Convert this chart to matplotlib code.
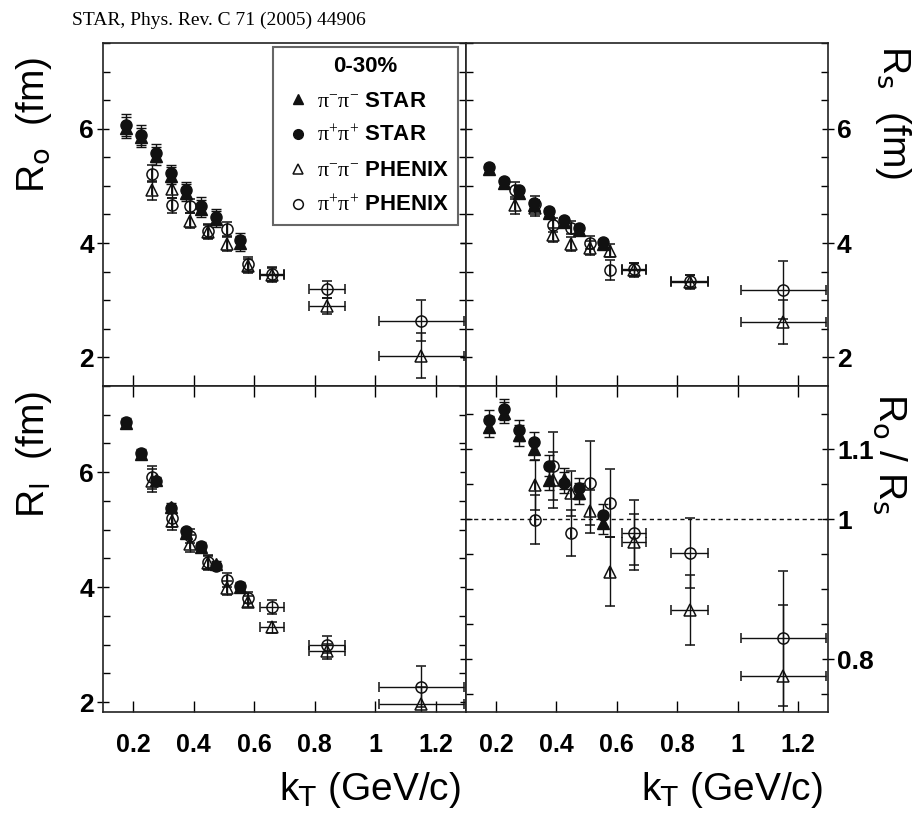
import numpy as np
import matplotlib
matplotlib.use("Agg")
import matplotlib.pyplot as plt
from matplotlib.lines import Line2D
from matplotlib.ticker import MultipleLocator

plt.rcParams["font.family"] = ["Liberation Sans", "DejaVu Sans"]
plt.rcParams["mathtext.fontset"] = "custom"
plt.rcParams["mathtext.default"] = "regular"
plt.rcParams["mathtext.sf"] = "Liberation Serif"

# -------------------------------------------------------------------------
# Data: HBT radii vs kT, 0-30% Au+Au
# -------------------------------------------------------------------------
STAR_KT = [0.175, 0.225, 0.275, 0.325, 0.375, 0.425, 0.475, 0.553]
PHENIX_KT = [0.261, 0.328, 0.389, 0.447, 0.511, 0.578, 0.658, 0.841, 1.152]
PHENIX_KT_ERR = [0, 0, 0, 0, 0, 0, 0.04, 0.06, 0.14]

# R_out
RO_STAR_PIM = [6.02, 5.85, 5.52, 5.18, 4.88, 4.60, 4.42, 4.00]
RO_STAR_PIP = [6.06, 5.89, 5.57, 5.22, 4.92, 4.65, 4.46, 4.05]
RO_STAR_ERR = [0.19, 0.17, 0.16, 0.15, 0.15, 0.15, 0.14, 0.13]
RO_PHX_PIM = [4.92, 4.94, 4.39, 4.19, 3.99, 3.60, 3.44, 2.90, 2.03]
RO_PHX_PIM_ERR = [0.17, 0.15, 0.13, 0.12, 0.12, 0.12, 0.12, 0.14, 0.39]
RO_PHX_PIP = [5.21, 4.66, 4.65, 4.21, 4.24, 3.63, 3.46, 3.19, 2.64]
RO_PHX_PIP_ERR = [0.15, 0.13, 0.12, 0.12, 0.12, 0.12, 0.12, 0.15, 0.36]

# R_side
RS_STAR_PIM = [5.30, 5.05, 4.88, 4.66, 4.52, 4.37, 4.23, 3.98]
RS_STAR_PIP = [5.33, 5.08, 4.92, 4.70, 4.56, 4.41, 4.27, 4.02]
RS_STAR_ERR = [0.05, 0.05, 0.05, 0.05, 0.05, 0.05, 0.05, 0.05]
RS_PHX_PIM = [4.66, 4.62, 4.14, 3.99, 3.91, 3.87, 3.53, 3.32, 2.62]
RS_PHX_PIM_ERR = [0.15, 0.14, 0.12, 0.12, 0.12, 0.12, 0.12, 0.12, 0.38]
RS_PHX_PIP = [4.92, 4.69, 4.32, 4.27, 4.01, 3.53, 3.54, 3.33, 3.18]
RS_PHX_PIP_ERR = [0.15, 0.14, 0.12, 0.12, 0.12, 0.17, 0.12, 0.12, 0.51]

# R_long
RL_STAR_PIM = [6.85, 6.31, 5.86, 5.40, 4.95, 4.70, 4.40, 4.00]
RL_STAR_PIP = [6.88, 6.34, 5.84, 5.37, 4.97, 4.72, 4.37, 4.03]
RL_STAR_ERR = [0.06, 0.06, 0.06, 0.06, 0.06, 0.06, 0.06, 0.06]
RL_PHX_PIM = [5.85, 5.15, 4.76, 4.42, 3.99, 3.75, 3.30, 2.89, 1.97]
RL_PHX_PIM_ERR = [0.20, 0.15, 0.15, 0.12, 0.12, 0.10, 0.10, 0.13, 0.30]
RL_PHX_PIP = [5.91, 5.20, 4.89, 4.44, 4.12, 3.82, 3.65, 3.00, 2.27]
RL_PHX_PIP_ERR = [0.20, 0.15, 0.12, 0.12, 0.12, 0.10, 0.12, 0.15, 0.36]

# R_out / R_side
RATIO_STAR_PIM = [1.132, 1.152, 1.120, 1.100, 1.056, 1.058, 1.037, 0.994]
RATIO_STAR_PIP = [1.141, 1.157, 1.127, 1.110, 1.076, 1.052, 1.044, 1.006]
RATIO_STAR_ERR = [0.015, 0.015, 0.015, 0.015, 0.015, 0.015, 0.015, 0.015]
RATIO_PHX_KT = PHENIX_KT[1:]
RATIO_PHX_KT_ERR = PHENIX_KT_ERR[1:]
RATIO_PHX_PIM = [1.049, 1.056, 1.037, 1.011, 0.925, 0.967, 0.870, 0.777]
RATIO_PHX_PIM_ERR = [0.036, 0.040, 0.032, 0.030, 0.049, 0.040, 0.050, 0.100]
RATIO_PHX_PIP = [0.999, 1.076, 0.980, 1.052, 1.023, 0.981, 0.952, 0.830]
RATIO_PHX_PIP_ERR = [0.035, 0.049, 0.033, 0.060, 0.049, 0.046, 0.050, 0.096]

LABELS = [r"$\mathsf{π^{-}π^{-}}$ STAR", r"$\mathsf{π^{+}π^{+}}$ STAR",
          r"$\mathsf{π^{-}π^{-}}$ PHENIX", r"$\mathsf{π^{+}π^{+}}$ PHENIX"]

INK = "#111111"
MS = 8
TICK_FS = 18
LABEL_FS = 28


def draw_sets(ax, star_m, star_p, star_err, phx_m, phx_m_err, phx_p, phx_p_err,
              phx_kt=PHENIX_KT, phx_kt_err=PHENIX_KT_ERR):
    common = dict(ls="none", ecolor=INK, elinewidth=1.0, capsize=3.5,
                  capthick=1.0, ms=MS)
    ax.errorbar(phx_kt, phx_m, yerr=phx_m_err, xerr=phx_kt_err, marker="^",
                mfc="none", mec=INK, mew=1.1, **common)
    ax.errorbar(phx_kt, phx_p, yerr=phx_p_err, xerr=phx_kt_err, marker="o",
                mfc="none", mec=INK, mew=1.1, **common)
    ax.errorbar(STAR_KT, star_m, yerr=star_err, marker="^",
                mfc=INK, mec=INK, **common)
    ax.errorbar(STAR_KT, star_p, yerr=star_err, marker="o",
                mfc=INK, mec=INK, **common)


def style_axes(ax, right, bottom):
    ax.set_xlim(0.1, 1.3)
    ax.set_xticks([0.2, 0.4, 0.6, 0.8, 1.0, 1.2],
                  labels=["0.2", "0.4", "0.6", "0.8", "1", "1.2"],
                  fontsize=TICK_FS, fontweight="bold")
    ax.tick_params(axis="x", which="major", direction="in", length=8, width=1,
                   top=bottom, bottom=True, labelbottom=bottom, pad=15)
    ax.tick_params(axis="y", which="major", direction="inout", length=9, width=1,
                   left=True, right=True, labelleft=not right, labelright=right, pad=2)
    ax.tick_params(axis="y", which="minor", direction="in", length=5, width=1,
                   left=True, right=True)
    for sp in ax.spines.values():
        sp.set_linewidth(1.2)
        sp.set_color("#222222")


fig = plt.figure(figsize=(9.18, 8.14), dpi=100)
fig.patch.set_facecolor("white")

L, M, R = 0.1122, 0.5076, 0.902
TOP, MID, BOT = 0.9472, 0.5258, 0.1253
ax_o = fig.add_axes([L, MID, M - L, TOP - MID])
ax_s = fig.add_axes([M, MID, R - M, TOP - MID])
ax_l = fig.add_axes([L, BOT, M - L, MID - BOT])
ax_r = fig.add_axes([M, BOT, R - M, MID - BOT])

draw_sets(ax_o, RO_STAR_PIM, RO_STAR_PIP, RO_STAR_ERR,
          RO_PHX_PIM, RO_PHX_PIM_ERR, RO_PHX_PIP, RO_PHX_PIP_ERR)
draw_sets(ax_s, RS_STAR_PIM, RS_STAR_PIP, RS_STAR_ERR,
          RS_PHX_PIM, RS_PHX_PIM_ERR, RS_PHX_PIP, RS_PHX_PIP_ERR)
draw_sets(ax_l, RL_STAR_PIM, RL_STAR_PIP, RL_STAR_ERR,
          RL_PHX_PIM, RL_PHX_PIM_ERR, RL_PHX_PIP, RL_PHX_PIP_ERR)
draw_sets(ax_r, RATIO_STAR_PIM, RATIO_STAR_PIP, RATIO_STAR_ERR,
          RATIO_PHX_PIM, RATIO_PHX_PIM_ERR, RATIO_PHX_PIP, RATIO_PHX_PIP_ERR,
          phx_kt=RATIO_PHX_KT, phx_kt_err=RATIO_PHX_KT_ERR)
ax_r.axhline(1.0, color=INK, lw=1.0, ls=(0, (3, 2.5)), zorder=0)

for ax, right, bottom in [(ax_o, False, False), (ax_s, True, False),
                          (ax_l, False, True), (ax_r, True, True)]:
    style_axes(ax, right, bottom)

# radii panels
for ax in (ax_o, ax_s):
    ax.set_ylim(1.5, 7.5)
ax_l.set_ylim(1.83, 7.5)
for ax in (ax_o, ax_s, ax_l):
    ax.set_yticks([2, 4, 6], labels=["2", "4", "6"],
                  fontsize=TICK_FS + 1, fontweight="bold")
    ax.yaxis.set_minor_locator(MultipleLocator(0.5))

ax_r.set_ylim(0.725, 1.19)
ax_r.set_yticks([0.8, 1.0, 1.1], labels=["0.8", "1", "1.1"],
                fontsize=TICK_FS + 1, fontweight="bold")
ax_r.yaxis.set_minor_locator(MultipleLocator(0.05))

# axis titles
ax_o.set_ylabel(r"R$_\mathrm{o}$  (fm)", fontsize=LABEL_FS, rotation=90,
                ha="center", va="center")
ax_o.yaxis.set_label_coords(-0.19, 0.76)
ax_l.set_ylabel(r"R$_\mathrm{l}$  (fm)", fontsize=LABEL_FS, rotation=90,
                ha="center", va="center")
ax_l.yaxis.set_label_coords(-0.19, 0.79)
ax_s.yaxis.set_label_position("right")
ax_s.set_ylabel(r"R$_\mathrm{s}$  (fm)", fontsize=LABEL_FS, rotation=270,
                ha="center", va="center")
ax_s.yaxis.set_label_coords(1.18, 0.80)
ax_r.yaxis.set_label_position("right")
ax_r.set_ylabel(r"R$_\mathrm{o}$ / R$_\mathrm{s}$", fontsize=LABEL_FS,
                rotation=270, ha="center", va="center")
ax_r.yaxis.set_label_coords(1.17, 0.79)

for ax in (ax_l, ax_r):
    ax.set_xlabel(r"k$_\mathrm{T}$ (GeV/c)", fontsize=LABEL_FS,
                  ha="center", va="center")
    ax.xaxis.set_label_coords(0.735, -0.24)

# legend
handles = [
    Line2D([], [], ls="none", marker="^", ms=7, mfc=INK, mec=INK),
    Line2D([], [], ls="none", marker="o", ms=7, mfc=INK, mec=INK),
    Line2D([], [], ls="none", marker="^", ms=7, mfc="none", mec=INK, mew=1.1),
    Line2D([], [], ls="none", marker="o", ms=7, mfc="none", mec=INK, mew=1.1),
]
leg = ax_o.legend(handles, LABELS, title="0-30%", loc="upper left",
                  bbox_to_anchor=(0.468, 0.988), borderaxespad=0,
                  fancybox=False, edgecolor="#666666", framealpha=1,
                  borderpad=0.4, handlelength=1.5, handletextpad=0.1,
                  labelspacing=0.62,
                  prop={"size": 16, "weight": "bold"},
                  title_fontproperties={"size": 16, "weight": "bold"})
leg.get_frame().set_linewidth(1.5)

fig.text(0.078, 0.9754, "STAR, Phys. Rev. C 71 (2005) 44906",
         family="Liberation Serif", fontsize=14, ha="left", va="center")

fig.savefig("out.png", dpi=100, facecolor="white")
plt.close(fig)
